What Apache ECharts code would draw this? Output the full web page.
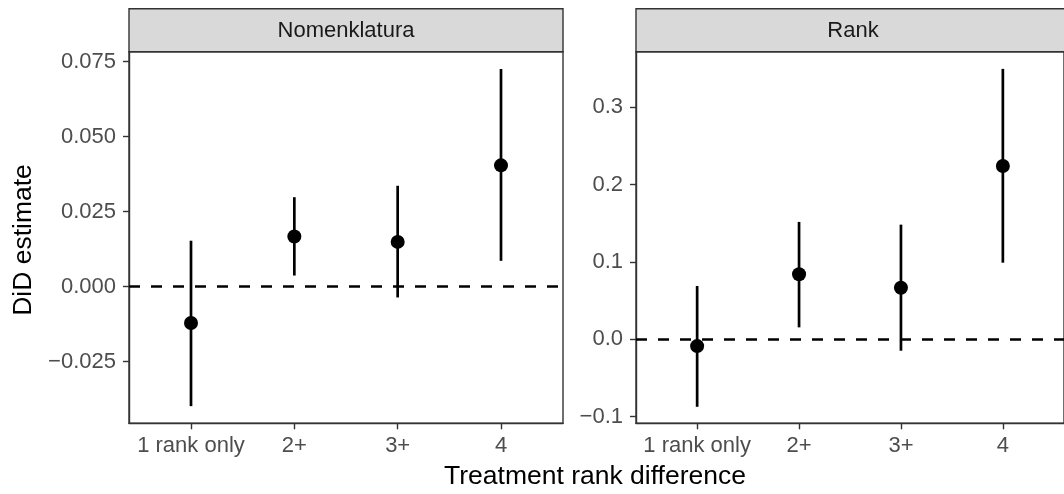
<!DOCTYPE html>
<html>
<head>
<meta charset="utf-8">
<script src="https://cdn.jsdelivr.net/npm/echarts@6/dist/echarts.min.js"></script>
<style>html,body{margin:0;padding:0;background:#fff}#c{width:1064px;height:494px}</style>
</head>
<body>
<div id="c"></div>
<script>
// ---- data ----
var categories = ['1 rank only', '2+', '3+', '4'];
var panels = ['Nomenklatura', 'Rank'];
var nomEst = [-0.0121, 0.0167, 0.0149, 0.0404];
var nomLo  = [-0.0398, 0.0037, -0.0036, 0.0086];
var nomHi  = [0.0153, 0.0298, 0.0336, 0.0725];
var rankEst = [-0.0087, 0.0841, 0.0668, 0.2242];
var rankLo  = [-0.0872, 0.0155, -0.0147, 0.0991];
var rankHi  = [0.0690, 0.1518, 0.1483, 0.3497];
var nomTicks = [-0.025, 0, 0.025, 0.05, 0.075];
var nomTickLabels = ['\u22120.025', '0.000', '0.025', '0.050', '0.075'];
var rankTicks = [-0.1, 0, 0.1, 0.2, 0.3];
var rankTickLabels = ['\u22120.1', '0.0', '0.1', '0.2', '0.3'];
var xTitle = 'Treatment rank difference';
var yTitle = 'DiD estimate';

// ---- layout ----
var FONT = "'Liberation Sans', Arial, Helvetica, sans-serif";
var plotTop = 51.7, plotH = 371.6, plotW = 434;
var lefts = [129, 636];
var stripTop = 8.7;
var TICKFS = 22;
var xPos = categories.map(function (c, i) { return i + 1; });

function labelFor(ticks, labels) {
  return function (v) {
    for (var i = 0; i < ticks.length; i++) if (Math.abs(ticks[i] - v) < 1e-9) return labels[i];
    return '';
  };
}

function xAxisDef(gi) {
  return {
    type: 'value', gridIndex: gi, min: 0.4, max: 4.6, position: 'bottom',
    splitLine: {show: false},
    axisLine: {show: true, onZero: false, lineStyle: {color: '#333333', width: 1.4}},
    axisTick: {show: true, length: 6, customValues: xPos, lineStyle: {color: '#333333', width: 1.4}},
    axisLabel: {customValues: xPos, color: '#4D4D4D', fontSize: TICKFS, fontFamily: FONT, margin: 12,
      formatter: function (v) { return categories[Math.round(v) - 1] || ''; }}
  };
}
function yAxisDef(gi, min, max, ticks, labels) {
  return {
    type: 'value', gridIndex: gi, min: min, max: max, position: 'left',
    splitLine: {show: false},
    axisLine: {show: true, onZero: false, lineStyle: {color: '#333333', width: 1.4}},
    axisTick: {show: true, length: 6, customValues: ticks, lineStyle: {color: '#333333', width: 1.4}},
    axisLabel: {customValues: ticks, color: '#4D4D4D', fontSize: TICKFS, fontFamily: FONT, margin: 13,
      formatter: labelFor(ticks, labels)}
  };
}

function errSeries(gi, lo, hi) {
  return {
    type: 'custom', xAxisIndex: gi, yAxisIndex: gi,
    data: xPos.map(function (x, i) { return [x, lo[i], hi[i]]; }),
    encode: {x: 0, y: [1, 2]},
    renderItem: function (params, api) {
      var x = api.value(0);
      var p1 = api.coord([x, api.value(1)]);
      var p2 = api.coord([x, api.value(2)]);
      return {type: 'line', shape: {x1: p1[0], y1: p1[1], x2: p2[0], y2: p2[1]},
        style: {stroke: '#000', lineWidth: 2.7}};
    },
    z: 3
  };
}
function ptSeries(gi, est) {
  return {
    type: 'scatter', xAxisIndex: gi, yAxisIndex: gi,
    data: xPos.map(function (x, i) { return [x, est[i]]; }),
    symbol: 'circle', symbolSize: 14,
    itemStyle: {color: '#000', opacity: 1},
    z: 4,
    markLine: {
      silent: true, symbol: 'none', label: {show: false},
      lineStyle: {color: '#000', width: 2.6, type: [11, 11]},
      data: [[{xAxis: 0.4, yAxis: 0}, {xAxis: 4.6, yAxis: 0}]], animation: false
    }
  };
}

var graphics = [];
panels.forEach(function (name, i) {
  graphics.push({type: 'rect', shape: {x: lefts[i], y: stripTop, width: plotW, height: plotTop - stripTop},
    style: {fill: '#D9D9D9', stroke: '#333333', lineWidth: 1.4}, z: 10});
  graphics.push({type: 'text', x: lefts[i] + plotW / 2, y: (stripTop + plotTop) / 2 + 1,
    style: {text: name, fill: '#1A1A1A', font: TICKFS + 'px ' + FONT, textAlign: 'center', textVerticalAlign: 'middle'}, z: 11});
});
graphics.push({type: 'text', x: 595, y: 477,
  style: {text: xTitle, fill: '#000', font: '26.5px ' + FONT, textAlign: 'center', textVerticalAlign: 'middle'}});
graphics.push({type: 'text', x: 24, y: 240, rotation: Math.PI / 2,
  style: {text: yTitle, fill: '#000', font: '26.5px ' + FONT, textAlign: 'center', textVerticalAlign: 'middle'}});

var chart = echarts.init(document.getElementById('c'), null, {renderer: 'canvas'});
chart.setOption({
  animation: false,
  backgroundColor: '#ffffff',
  grid: [
    {left: lefts[0], top: plotTop, width: plotW, height: plotH, show: true, borderColor: '#333333', borderWidth: 1.4, backgroundColor: '#fff'},
    {left: lefts[1], top: plotTop, width: plotW, height: plotH, show: true, borderColor: '#333333', borderWidth: 1.4, backgroundColor: '#fff'}
  ],
  xAxis: [xAxisDef(0), xAxisDef(1)],
  yAxis: [
    yAxisDef(0, -0.04552, 0.07826, nomTicks, nomTickLabels),
    yAxisDef(1, -0.10853, 0.3719, rankTicks, rankTickLabels)
  ],
  series: [
    errSeries(0, nomLo, nomHi), ptSeries(0, nomEst),
    errSeries(1, rankLo, rankHi), ptSeries(1, rankEst)
  ],
  graphic: graphics
});
</script>
</body>
</html>
